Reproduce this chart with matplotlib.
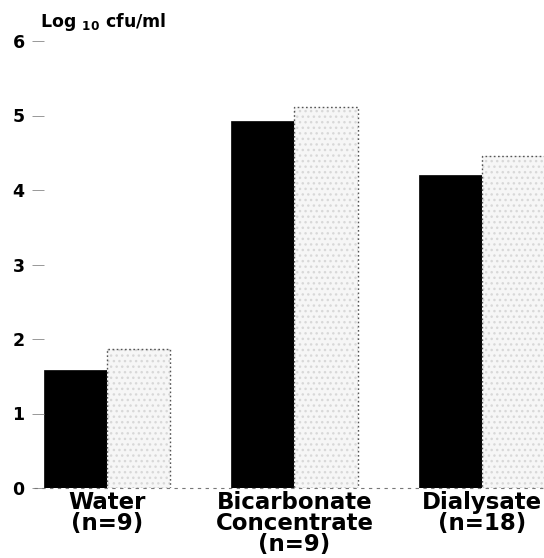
"""Bacterial counts (log10 cfu/ml) in water, concentrate and dialysate."""

import matplotlib

matplotlib.use("Agg")
import matplotlib.pyplot as plt
import numpy as np

categories = ["Water\n(n=9)", "Bicarbonate\nConcentrate\n(n=9)", "Dialysate\n(n=18)"]
black_values = [1.58, 4.93, 4.20]
stipple_values = [1.87, 5.11, 4.46]
y_ticks = [0, 1, 2, 3, 4, 5, 6]

plt.rcParams["font.family"] = ["DejaVu Sans"]

fig = plt.figure(figsize=(5.44, 5.58), dpi=100)
ax = fig.add_axes([44 / 544, 70 / 558, 500 / 544, 447 / 558])

x = np.arange(len(categories))
width = 0.337

ax.bar(x - width / 2, black_values, width, color="black", edgecolor="black", linewidth=0.5)
# stippled bars: light speckle fill plus dotted outline
ax.bar(x + width / 2, stipple_values, width, color="#f6f6f6", edgecolor="#d8d8d8",
       hatch="...", linewidth=0)
ax.bar(x + width / 2, stipple_values, width, fill=False, edgecolor="#555555",
       linestyle=(0, (1.2, 1.8)), linewidth=1.0)

ax.axhline(0, color="#777777", linewidth=0.8, linestyle=(0, (3, 4)), xmin=-0.02, clip_on=False)

ax.set_xlim(-0.335, 2.33)
ax.set_ylim(0, 6)
ax.set_yticks(y_ticks)
ax.set_yticklabels([str(t) for t in y_ticks], fontsize=12.5, fontweight="bold")
ax.tick_params(axis="y", length=9, width=0.6, color="#888888", pad=5)
ax.set_xticks([])
for s in ax.spines.values():
    s.set_visible(False)

for xi, label in zip(x, categories):
    ax.text(xi, -0.04, label, ha="center", va="top", fontsize=16.5, fontweight="bold",
            linespacing=0.9, transform=ax.transData, clip_on=False)

fig.text(40 / 544, 1 - 27 / 558, r"Log $_{\mathregular{10}}$ cfu/ml", fontsize=12.5,
         fontweight="bold", ha="left", va="baseline")

fig.savefig("out.png", dpi=100)
